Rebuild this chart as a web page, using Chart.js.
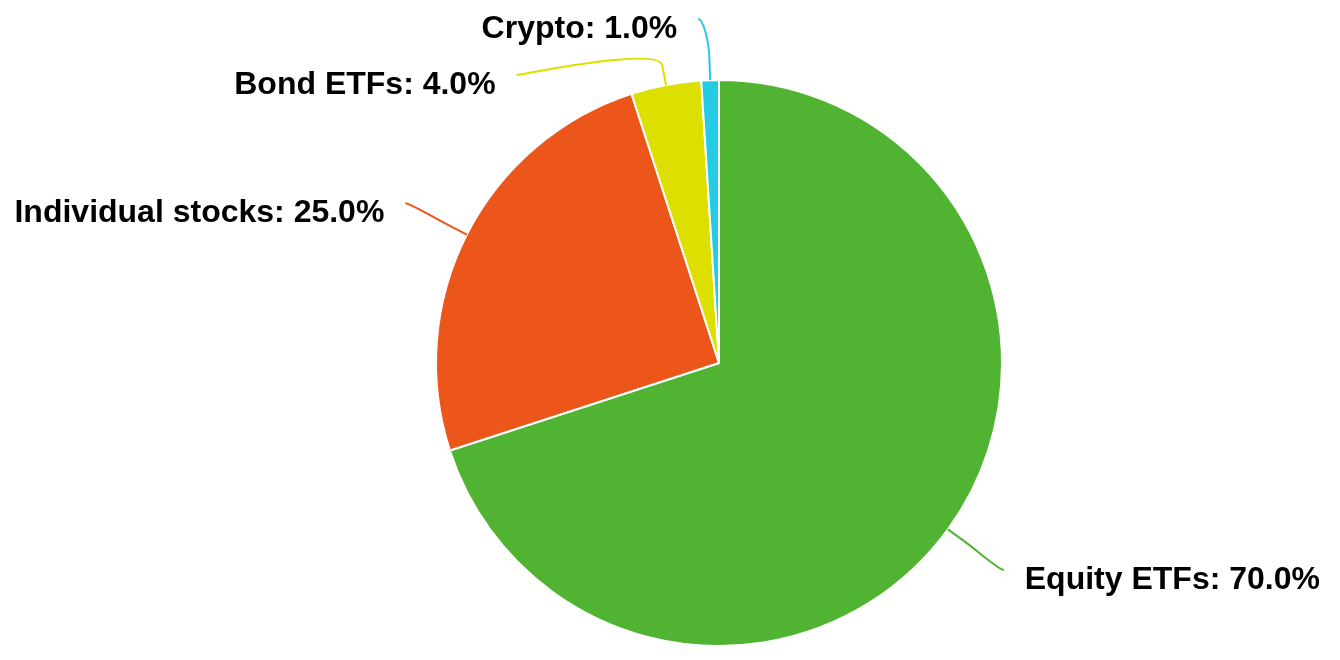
<!DOCTYPE html>
<html>
<head>
<meta charset="utf-8">
<title>Portfolio allocation</title>
<script src="https://cdn.jsdelivr.net/npm/chart.js@4/dist/chart.umd.min.js"></script>
<style>
  html, body { margin: 0; padding: 0; background: #fff; }
  #chart { display: block; }
</style>
</head>
<body>
<canvas id="chart" width="1340" height="660"></canvas>
<script>
// allocation data
const categories = ["Equity ETFs", "Individual stocks", "Bond ETFs", "Crypto"];
const shares = [70, 25, 4, 1];
const colors = ["#50B432", "#ED561B", "#DDDF00", "#24CBE5"];

const LABEL_FONT = "bold 32px 'Liberation Sans', Arial, sans-serif";
const LABEL_DISTANCE = 69;   // from pie edge to connector end
const BREAK_OFFSET = 20;     // straight part of the connector
const TEXT_GAP = 21;         // connector end -> text
const LINE_SPACING = 56;     // min vertical gap between labels on one side
const MIN_Y = 19;

// draws "name: x.x%" labels with soft curved connectors
const pieLabels = {
  id: "pieLabels",
  afterDatasetsDraw(chart) {
    const ctx = chart.ctx;
    const arcs = chart.getDatasetMeta(0).data;
    const items = arcs.map((arc, i) => {
      const mid = (arc.startAngle + arc.endAngle) / 2;
      const r = arc.outerRadius;
      const R = r + LABEL_DISTANCE;
      const cos = Math.cos(mid), sin = Math.sin(mid);
      return {
        i, cx: arc.x, cy: arc.y, R, cos, sin,
        left: cos < 0,
        touch: { x: arc.x + cos * r, y: arc.y + sin * r },
        brk: { x: arc.x + cos * (r + BREAK_OFFSET), y: arc.y + sin * (r + BREAK_OFFSET) },
        x: arc.x + cos * R,
        y: arc.y + sin * R,
      };
    });

    // keep labels on each side from overlapping
    [true, false].forEach((side) => {
      const group = items.filter((it) => it.left === side).sort((a, b) => a.y - b.y);
      let prev = null;
      group.forEach((it) => {
        let y = it.y;
        if (y < MIN_Y) {
          // pushed down from the top edge: slide outward a bit
          it.x += (side ? -1 : 1) * (MIN_Y - y) * 1.25;
          y = MIN_Y;
        }
        if (prev !== null && y < prev + LINE_SPACING) {
          y = prev + LINE_SPACING;
          const dy = y - it.cy;
          const dx = Math.sqrt(Math.max(it.R * it.R - dy * dy, 0));
          it.x = it.cx + (side ? -dx : dx);
        }
        it.y = y;
        prev = y;
      });
    });

    ctx.save();
    items.forEach((it) => {
      const dir = it.left ? 1 : -1;
      ctx.beginPath();
      ctx.moveTo(it.x, it.y);
      ctx.bezierCurveTo(
        it.x + dir * 5, it.y,
        2 * it.brk.x - it.touch.x, 2 * it.brk.y - it.touch.y,
        it.brk.x, it.brk.y
      );
      ctx.lineTo(it.touch.x, it.touch.y);
      ctx.strokeStyle = colors[it.i];
      ctx.lineWidth = 2;
      ctx.stroke();

      ctx.font = LABEL_FONT;
      ctx.fillStyle = "#000";
      ctx.textBaseline = "middle";
      ctx.textAlign = it.left ? "right" : "left";
      const text = categories[it.i] + ": " + shares[it.i].toFixed(1) + "%";
      ctx.fillText(text, it.x - dir * TEXT_GAP, it.y + 10);
    });
    ctx.restore();
  },
};

new Chart(document.getElementById("chart"), {
  type: "pie",
  data: {
    labels: categories,
    datasets: [
      {
        data: shares,
        backgroundColor: colors,
        borderColor: "#ffffff",
        borderWidth: 2,
      },
    ],
  },
  options: {
    responsive: false,
    animation: false,
    layout: {
      padding: { left: 435, right: 337, top: 79, bottom: 13 },
    },
    plugins: {
      legend: { display: false },
      tooltip: { enabled: false },
    },
  },
  plugins: [pieLabels],
});
</script>
</body>
</html>
